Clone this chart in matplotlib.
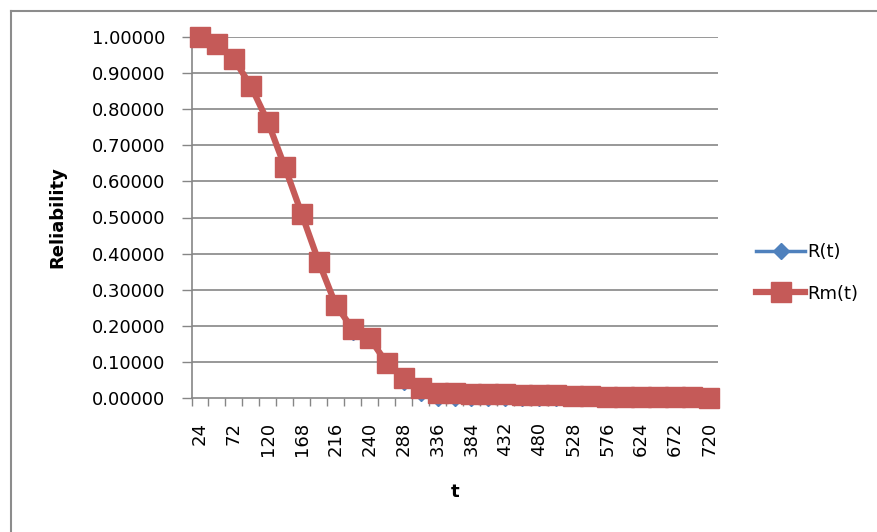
import matplotlib
matplotlib.use("Agg")
import matplotlib.pyplot as plt
from matplotlib.lines import Line2D

# operating time (hours) and reliability values
t = [24, 48, 72, 96, 120, 144, 168, 192, 216, 228, 240, 264, 288, 312, 336, 360,
     384, 408, 432, 456, 480, 504, 528, 552, 576, 600, 624, 648, 672, 696, 720]
r = [1.0, 0.980, 0.939, 0.864, 0.765, 0.640, 0.509, 0.377, 0.258, 0.182, 0.160,
     0.095, 0.045, 0.015, 0.001, 0.000, 0.000, 0.000, 0.000, 0.000, 0.000, 0.000,
     0.000, 0.000, 0.000, 0.000, 0.000, 0.000, 0.000, 0.000, 0.000]
rm = [1.0, 0.980, 0.939, 0.864, 0.765, 0.640, 0.509, 0.377, 0.258, 0.191, 0.166,
      0.097, 0.055, 0.028, 0.014, 0.013, 0.012, 0.011, 0.010, 0.009, 0.008, 0.007,
      0.006, 0.005, 0.004, 0.004, 0.003, 0.003, 0.002, 0.002, 0.001]
yticks = [0.0, 0.1, 0.2, 0.3, 0.4, 0.5, 0.6, 0.7, 0.8, 0.9, 1.0]

blue = '#4F81BD'
red = '#C55A58'
grid = '#868686'

fig = plt.figure(figsize=(8.77, 5.32), dpi=100)
W, H = 877, 532
ax = fig.add_axes([191.5 / W, 1 - 398 / H, 526 / W, 361 / H])

x = list(range(len(t)))
ax.plot(x, r, color=blue, lw=2.5, marker='D', ms=8, mec=blue, zorder=3,
        clip_on=False, label='R(t)')
ax.plot(x, rm, color=red, lw=4.5, marker='s', ms=14, mec=red, zorder=4,
        clip_on=False, label='Rm(t)')

ax.set_xlim(-0.5, len(t) - 0.5)
ax.set_ylim(0, 1)

# horizontal gridlines
ax.set_yticks(yticks)
ax.set_yticklabels(['%.5f' % v for v in yticks])
for v in yticks[1:]:
    ax.axhline(v, color=grid, lw=1.2, zorder=1)

# category axis: tick marks between categories, labels on every other one
ax.set_xticks([i + 0.5 for i in range(-1, len(t))])
ax.set_xticklabels([])
ax.set_xticks(x[::2], minor=True)
ax.set_xticklabels([str(v) for v in t[::2]], minor=True, rotation=90, va='top')
ax.tick_params(axis='x', which='major', length=6, width=1, color=grid)
ax.tick_params(axis='x', which='minor', length=0, pad=17, labelsize=13)
ax.tick_params(axis='y', length=7, width=1, color=grid, pad=12, labelsize=13)

for s in ['top', 'right']:
    ax.spines[s].set_visible(False)
for s in ['left', 'bottom']:
    ax.spines[s].set_color(grid)
    ax.spines[s].set_linewidth(1.2)

fig.text(57 / W, 1 - 217 / H, 'Reliability', rotation=90, ha='center',
         va='center', fontsize=13, fontweight='bold')
fig.text(455 / W, 1 - 492 / H, 't', ha='center', va='center',
         fontsize=13, fontweight='bold')

fig.legend(loc='center left', bbox_to_anchor=(740 / W, 1 - 273 / H),
           frameon=False, fontsize=13, handlelength=2.7, labelspacing=1.3,
           handletextpad=0.15)

# chart area border
fig.add_artist(Line2D([11 / W, 1], [1 - 10.5 / H, 1 - 10.5 / H], color='#8c8c8c', lw=1.5))
fig.add_artist(Line2D([11 / W, 11 / W], [0, 1 - 10.5 / H], color='#8c8c8c', lw=1.5))

fig.savefig('out.png', dpi=100)
